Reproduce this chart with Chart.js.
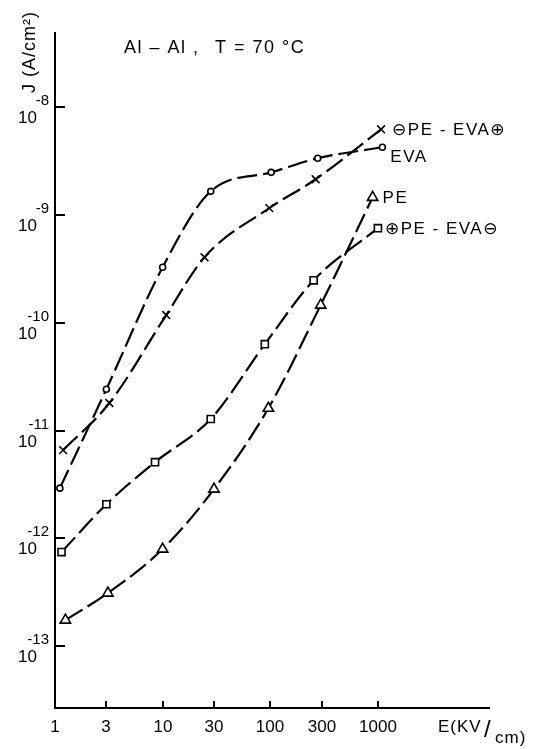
<!DOCTYPE html>
<html>
<head>
<meta charset="utf-8">
<title>J vs E, Al-Al, 70 °C</title>
<script src="https://cdn.jsdelivr.net/npm/chart.js@4.4.0/dist/chart.umd.min.js"></script>
<style>
  body { margin: 0; background: #fff; }
  #wrap { width: 547px; height: 749px; }
</style>
</head>
<body>
<div id="wrap"><canvas id="jeChart" width="547" height="749"></canvas></div>
<script>
// field E (kV/cm) and current density J (A/cm2), one pair of arrays per sample
const eEVA = [1.11, 3, 10, 28, 102, 276, 1100];
const jEVA = [2.92e-12, 2.42e-11, 3.28e-10, 1.66e-9, 2.49e-9, 3.37e-9, 4.26e-9];

const eNegPos = [1.19, 3.2, 10.8, 24.5, 98, 264, 1070];
const jNegPos = [6.58e-12, 1.80e-11, 1.18e-10, 4.06e-10, 1.16e-9, 2.15e-9, 6.25e-9];

const ePosNeg = [1.15, 3, 8.5, 28, 89, 253, 1000];
const jPosNeg = [7.45e-13, 2.07e-12, 5.09e-12, 1.28e-11, 6.33e-11, 2.48e-10, 7.55e-10];

const ePE = [1.25, 3.1, 10, 30, 96, 294, 893];
const jPE = [1.74e-13, 3.10e-13, 7.94e-13, 2.86e-12, 1.61e-11, 1.46e-10, 1.46e-9];

const xTicks = [1, 3, 10, 30, 100, 300, 1000];
const yTickExp = [-8, -9, -10, -11, -12, -13];

const seriesNames = ["EVA", "\u2296PE - EVA\u2295", "\u2295PE - EVA\u2296", "PE"];

const FONT = '"Liberation Sans", "DejaVu Sans", sans-serif';

function toPoints(xs, ys) {
  return xs.map((x, i) => ({ x: x, y: ys[i] }));
}

function curve(label, xs, ys, style, radius) {
  return {
    label: label,
    data: toPoints(xs, ys),
    showLine: true,
    borderColor: "#000",
    borderWidth: 2.2,
    borderDash: [20, 6],
    cubicInterpolationMode: "monotone",
    pointStyle: style,
    pointRadius: radius,
    pointBorderWidth: 1.6,
    pointBorderColor: "#000",
    pointBackgroundColor: "#fff"
  };
}

// axes, ticks, labels and curve names are drawn by hand in the old paper style
const paperAxes = {
  id: "paperAxes",
  afterDraw(chart) {
    const ctx = chart.ctx;
    const area = chart.chartArea;
    const xs = chart.scales.x;
    const ys = chart.scales.y;
    const left = Math.round(area.left);
    const bottom = Math.round(area.bottom);

    ctx.save();
    ctx.setLineDash([]);
    ctx.fillStyle = "#000";

    // axis lines
    ctx.fillRect(left - 1, Math.round(area.top), 2, bottom - Math.round(area.top) + 1);
    ctx.fillRect(left - 1, bottom - 1, Math.round(area.right) - left + 1, 2);

    // y ticks: 10 with exponent
    yTickExp.forEach(e => {
      const py = Math.round(ys.getPixelForValue(Math.pow(10, e)));
      ctx.fillRect(left, py - 1, 10, 2);
      ctx.textAlign = "right";
      ctx.textBaseline = "middle";
      ctx.font = "17px " + FONT;
      ctx.fillText("10", 37, py + 11);
      ctx.font = "15px " + FONT;
      ctx.fillText(String(e), 49, py - 6);
    });

    // x ticks
    ctx.font = "17px " + FONT;
    ctx.textAlign = "center";
    xTicks.forEach(v => {
      const px = Math.round(xs.getPixelForValue(v));
      ctx.fillRect(px - 1, bottom - 7, 2, 7);
      ctx.fillText(String(v), px, 727);
    });

    // axis titles
    ctx.textAlign = "left";
    ctx.letterSpacing = "1px";
    ctx.fillText("E(KV", 438, 727);
    ctx.font = "24px " + FONT;
    ctx.fillText("/", 484, 730);
    ctx.font = "17px " + FONT;
    ctx.fillText("cm)", 495, 738);

    ctx.save();
    ctx.translate(30, 52);
    ctx.rotate(-Math.PI / 2);
    ctx.textAlign = "center";
    ctx.font = "18px " + FONT;
    ctx.fillText("J (A/cm\u00b2)", 0, 0);
    ctx.restore();

    ctx.textAlign = "left";
    ctx.font = "18px " + FONT;
    ctx.letterSpacing = "1.5px";
    ctx.fillText("Al \u2013 Al ,", 124, 48);
    ctx.fillText("T = 70 \u00b0C", 215, 48);

    // curve names next to the last point of each curve
    const offsets = [[8, 10], [11, 1], [7, 1], [10, 1]];
    ctx.font = "17px " + FONT;
    ctx.letterSpacing = "1.5px";
    chart.data.datasets.forEach((ds, i) => {
      const last = ds.data[ds.data.length - 1];
      const px = xs.getPixelForValue(last.x);
      const py = ys.getPixelForValue(last.y);
      ctx.fillText(seriesNames[i], px + offsets[i][0], py + offsets[i][1]);
    });
    ctx.restore();
  }
};

const ctx = document.getElementById("jeChart").getContext("2d");

new Chart(ctx, {
  type: "scatter",
  data: {
    datasets: [
      curve(seriesNames[0], eEVA, jEVA, "circle", 3),
      curve(seriesNames[1], eNegPos, jNegPos, "crossRot", 5.5),
      curve(seriesNames[2], ePosNeg, jPosNeg, "rect", 5),
      curve(seriesNames[3], ePE, jPE, "triangle", 6)
    ]
  },
  options: {
    responsive: false,
    animation: false,
    layout: { padding: { left: 55, top: 32, right: 57, bottom: 41 } },
    plugins: { legend: { display: false }, tooltip: { enabled: false } },
    scales: {
      x: { type: "logarithmic", display: false, min: 1, max: 11000 },
      y: { type: "logarithmic", display: false, min: 2.66e-14, max: 5.0e-8 }
    }
  },
  plugins: [paperAxes]
});
</script>
</body>
</html>
